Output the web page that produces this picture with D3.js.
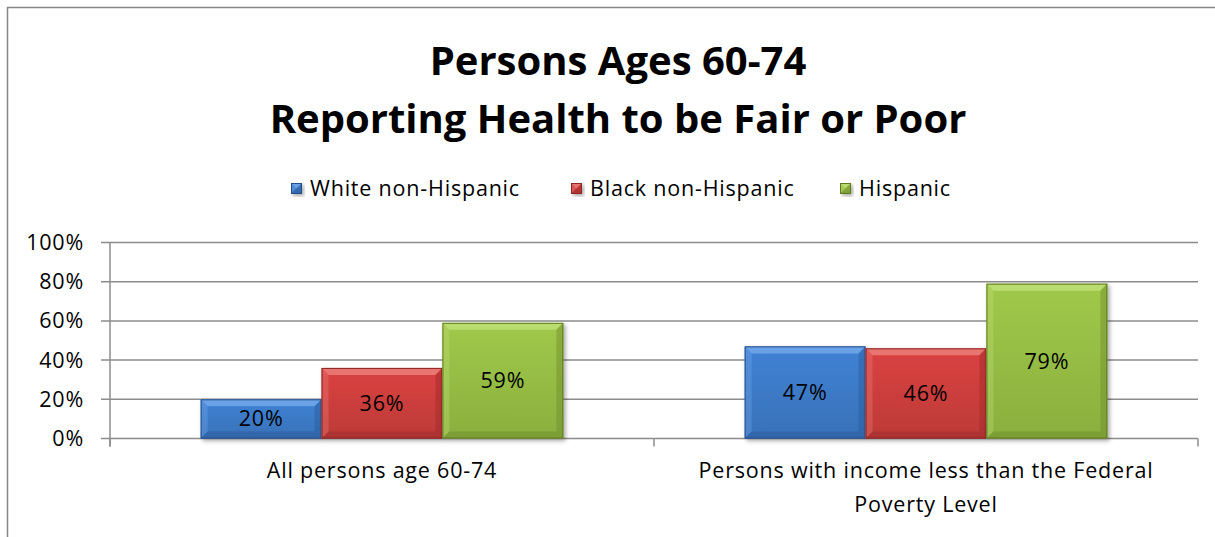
<!DOCTYPE html>
<html>
<head>
<meta charset="utf-8">
<script src="https://cdn.jsdelivr.net/npm/d3@7"></script>
<style>
	html, body { margin:0; padding:0; background:#fff; }
	svg { display:block; font-family:"Open Sans", "DejaVu Sans", sans-serif; }
</style>
</head>
<body>
<div id="chart"></div>
<script>
var titleLines = ['Persons Ages 60-74', 'Reporting Health to be Fair or Poor'];
var categories = ['All persons age 60-74', 'Persons with income less than the Federal Poverty Level'];
var categoryLines = [['All persons age 60-74'], ['Persons with income less than the Federal', 'Poverty Level']];
var seriesNames = ['White non-Hispanic', 'Black non-Hispanic', 'Hispanic'];
var white = [20, 47];
var black = [36, 46];
var hispanic = [59, 79];
var yTicks = [0, 20, 40, 60, 80, 100];

(function() {
	var W = 1215, H = 537
		, plot = {left:110, right:1198, top:242.5, bottom:438.5}
		, fs = 21.5
		, ls = 0.8
		, colors = [
			{base:'#3d7bc9', light:'#7fb0ee', dark:'#2a5a9a', edge:'#24508c'},
			{base:'#cf3f3d', light:'#f08a86', dark:'#9c2a28', edge:'#8e2624'},
			{base:'#98bf45', light:'#c6e680', dark:'#6e8c2c', edge:'#5f7a24'}
		]
		, series = [white, black, hispanic];

	var svg = d3.select('#chart')
		.append('svg')
		.attr('width', W)
		.attr('height', H);

	var defs = svg.append('defs');
	colors.forEach(function(c, i) {
		var g = defs.append('linearGradient')
			.attr('id', 'fill' + i)
			.attr('x1', 0).attr('y1', 0)
			.attr('x2', 0).attr('y2', 1);
		g.append('stop').attr('offset', '0').attr('stop-color', d3.color(c.base).brighter(0.15));
		g.append('stop').attr('offset', '1').attr('stop-color', d3.color(c.base).darker(0.25));
	});
	var sh = defs.append('filter').attr('id', 'shadow')
		.attr('x', '-10%').attr('y', '-10%').attr('width', '130%').attr('height', '130%');
	sh.append('feGaussianBlur').attr('in', 'SourceAlpha').attr('stdDeviation', 2).attr('result', 'b');
	sh.append('feOffset').attr('in', 'b').attr('dx', 2).attr('dy', 2).attr('result', 'o');
	sh.append('feComponentTransfer').attr('in', 'o').attr('result', 'o2')
		.append('feFuncA').attr('type', 'linear').attr('slope', 0.35);
	var m = sh.append('feMerge');
	m.append('feMergeNode').attr('in', 'o2');
	m.append('feMergeNode').attr('in', 'SourceGraphic');

	// outer frame (right and bottom edges fall outside the picture)
	svg.append('rect')
		.attr('x', 7.5).attr('y', 7.5)
		.attr('width', W + 20).attr('height', H + 20)
		.attr('fill', 'none')
		.attr('stroke', '#868686')
		.attr('stroke-width', 1.5);

	// title
	svg.append('g')
		.selectAll('text')
		.data(titleLines)
		.join('text')
		.attr('x', 618)
		.attr('y', function(d, i) { return 75 + i * 58; })
		.attr('text-anchor', 'middle')
		.attr('font-size', 40)
		.attr('font-weight', 'bold')
		.attr('fill', '#000')
		.text(function(d) { return d; });

	var x0 = d3.scaleBand()
		.domain(categories)
		.range([plot.left, plot.right])
		.paddingInner(0)
		.paddingOuter(0);
	var x1 = d3.scaleBand()
		.domain(seriesNames)
		.range([0, x0.bandwidth()])
		.paddingOuter(0.75);
	var y = d3.scaleLinear()
		.domain([0, 100])
		.range([plot.bottom, plot.top]);

	// gridlines
	svg.append('g')
		.selectAll('line')
		.data(yTicks)
		.join('line')
		.attr('x1', plot.left - 9)
		.attr('x2', plot.right)
		.attr('y1', function(d) { return y(d); })
		.attr('y2', function(d) { return y(d); })
		.attr('stroke', '#8c8c8c')
		.attr('stroke-width', 1.5);

	// value axis line and labels
	svg.append('line')
		.attr('x1', plot.left).attr('x2', plot.left)
		.attr('y1', plot.top).attr('y2', plot.bottom + 8)
		.attr('stroke', '#8c8c8c')
		.attr('stroke-width', 1.5);
	svg.append('g')
		.selectAll('text')
		.data(yTicks)
		.join('text')
		.attr('x', 84)
		.attr('y', function(d) { return y(d) + 7.5; })
		.attr('text-anchor', 'end')
		.attr('font-size', fs)
		.attr('letter-spacing', ls)
		.attr('fill', '#000')
		.text(function(d) { return d + '%'; });

	// category ticks
	svg.append('g')
		.selectAll('line')
		.data([plot.left, x0(categories[1]), plot.right])
		.join('line')
		.attr('x1', function(d) { return d; })
		.attr('x2', function(d) { return d; })
		.attr('y1', plot.bottom)
		.attr('y2', plot.bottom + 8)
		.attr('stroke', '#8c8c8c')
		.attr('stroke-width', 1.5);

	// bars
	var bevel = 7;
	function drawBar(g, bx, by, bw, bh, c, i) {
		var bar = g.append('g').attr('filter', 'url(#shadow)');
		bar.append('rect')
			.attr('x', bx).attr('y', by)
			.attr('width', bw).attr('height', bh)
			.attr('fill', 'url(#fill' + i + ')');
		var b = Math.min(bevel, bh / 2)
			, xr = bx + bw, yb = by + bh;
		bar.append('path')
			.attr('d', 'M' + bx + ',' + by + 'L' + xr + ',' + by + 'L' + (xr - b) + ',' + (by + b) + 'L' + (bx + b) + ',' + (by + b) + 'Z')
			.attr('fill', c.light).attr('opacity', 0.7);
		bar.append('path')
			.attr('d', 'M' + bx + ',' + by + 'L' + (bx + b) + ',' + (by + b) + 'L' + (bx + b) + ',' + (yb - b) + 'L' + bx + ',' + yb + 'Z')
			.attr('fill', c.light).attr('opacity', 0.3);
		bar.append('path')
			.attr('d', 'M' + xr + ',' + by + 'L' + xr + ',' + yb + 'L' + (xr - b) + ',' + (yb - b) + 'L' + (xr - b) + ',' + (by + b) + 'Z')
			.attr('fill', c.dark).attr('opacity', 0.45);
		bar.append('path')
			.attr('d', 'M' + bx + ',' + yb + 'L' + xr + ',' + yb + 'L' + (xr - b) + ',' + (yb - b) + 'L' + (bx + b) + ',' + (yb - b) + 'Z')
			.attr('fill', c.dark).attr('opacity', 0.5);
		bar.append('rect')
			.attr('x', bx + 0.5).attr('y', by + 0.5)
			.attr('width', bw - 1).attr('height', bh - 1)
			.attr('fill', 'none')
			.attr('stroke', c.edge)
			.attr('stroke-width', 1);
	}

	var barsG = svg.append('g');
	var labelsG = svg.append('g');
	categories.forEach(function(cat, ci) {
		seriesNames.forEach(function(s, si) {
			var v = series[si][ci]
				, bx = x0(cat) + x1(s)
				, by = y(v)
				, bw = x1.bandwidth()
				, bh = y(0) - y(v);
			drawBar(barsG, bx, by, bw, bh, colors[si], si);
			labelsG.append('text')
				.attr('x', bx + bw / 2)
				.attr('y', by + bh / 2 + 7.5)
				.attr('text-anchor', 'middle')
				.attr('font-size', fs)
				.attr('letter-spacing', ls)
				.attr('fill', '#000')
				.text(v + '%');
		});
	});

	// category labels
	categories.forEach(function(cat, ci) {
		svg.append('text')
			.attr('x', x0(cat) + x0.bandwidth() / 2)
			.attr('y', 478)
			.attr('text-anchor', 'middle')
			.attr('font-size', fs)
			.attr('letter-spacing', ls)
			.attr('fill', '#000')
			.selectAll('tspan')
			.data(categoryLines[ci])
			.join('tspan')
			.attr('x', x0(cat) + x0.bandwidth() / 2)
			.attr('dy', function(d, i) { return i ? 34 : 0; })
			.text(function(d) { return d; });
	});

	// legend
	var legendX = [291, 571, 840];
	var legend = svg.append('g');
	seriesNames.forEach(function(s, i) {
		drawBar(legend, legendX[i], 183, 11, 11, colors[i], i);
		legend.append('text')
			.attr('x', legendX[i] + 19)
			.attr('y', 196)
			.attr('font-size', fs)
			.attr('letter-spacing', ls)
			.attr('fill', '#000')
			.text(s);
	});
})();
</script>
</body>
</html>
